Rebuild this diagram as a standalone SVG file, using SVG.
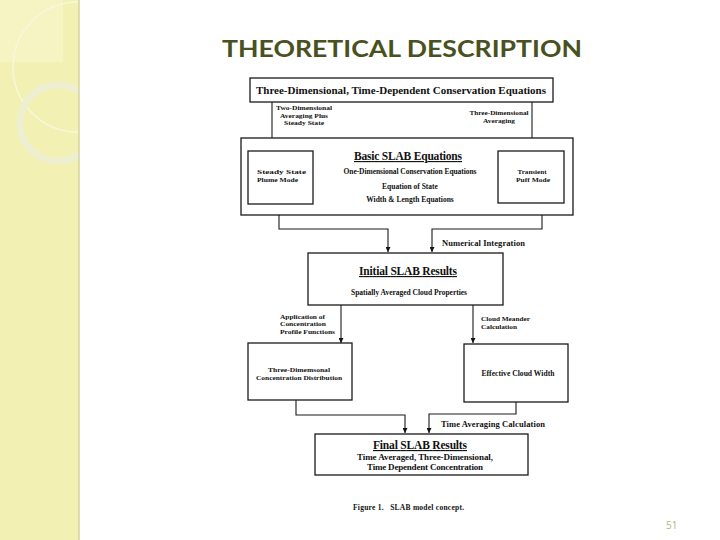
<svg xmlns="http://www.w3.org/2000/svg" width="720" height="540" viewBox="0 0 720 540">
<defs>
<marker id="ah" viewBox="0 0 10 10" refX="10" refY="5" markerWidth="5" markerHeight="5" orient="auto" markerUnits="userSpaceOnUse">
<path d="M0,0 L10,5 L0,10 z" fill="#111"/>
</marker>
<clipPath id="side"><rect x="0" y="0" width="79" height="540"/></clipPath>
</defs>
<style>
.box{fill:#fff;stroke:#1a1a1a;stroke-width:1.3}
.con{fill:none;stroke:#1a1a1a;stroke-width:1.1}
.t{font-family:"Liberation Serif","Times New Roman",serif;font-weight:bold;fill:#111}
.h{font-size:11.5px;text-decoration:underline}
.m{font-size:10.5px}
.s{font-size:7.5px}
.x{font-size:6.8px}
.c{text-anchor:middle}
</style>
<rect x="0" y="0" width="720" height="540" fill="#fff"/>
<g id="sidebar">
<rect x="0" y="0" width="79" height="540" fill="#f2f1b3"/>
<g clip-path="url(#side)">
<rect x="0" y="0" width="63" height="62" fill="#f6f5c9" opacity="0.7"/>
<circle cx="78" cy="67" r="65" fill="none" stroke="#f8f7dc" stroke-width="1.5"/>
<circle cx="58" cy="123" r="38" fill="none" stroke="#eeeed0" stroke-width="7"/>
</g>
<line x1="79" y1="0" x2="79" y2="540" stroke="#d6d49a" stroke-width="1.5"/>
</g>
<text id="title" x="402" y="57" text-anchor="middle" font-family="Lato,'Open Sans',sans-serif" font-weight="bold" font-size="23" fill="#4a5120" textLength="360" lengthAdjust="spacingAndGlyphs">THEORETICAL DESCRIPTION</text>

<g id="connectors">
<path class="con" d="M272,102 V150" marker-end="url(#ah)"/>
<path class="con" d="M532,102 V150" marker-end="url(#ah)"/>
<path class="con" d="M279,204 V229 H388 V252" marker-end="url(#ah)"/>
<path class="con" d="M542,203 V229 H432 V252" marker-end="url(#ah)"/>
<path class="con" d="M341,305 V343" marker-end="url(#ah)"/>
<path class="con" d="M473,305 V343" marker-end="url(#ah)"/>
<path class="con" d="M296,400 V415 H405 V433" marker-end="url(#ah)"/>
<path class="con" d="M516,402 V414 H429 V433" marker-end="url(#ah)"/>
<g class="t x">
<text x="304" y="110" class="c" textLength="56" lengthAdjust="spacingAndGlyphs">Two-Dimensional</text>
<text x="304" y="117.5" class="c" textLength="48" lengthAdjust="spacingAndGlyphs">Averaging Plus</text>
<text x="304" y="125" class="c" textLength="40" lengthAdjust="spacingAndGlyphs">Steady State</text>
<text x="499" y="115" class="c" textLength="59" lengthAdjust="spacingAndGlyphs">Three-Dimensional</text>
<text x="499" y="122.5" class="c" textLength="32" lengthAdjust="spacingAndGlyphs">Averaging</text>
<text x="442" y="245.5" font-size="8.5" textLength="83">Numerical Integration</text>
<text x="280" y="318.5" textLength="45" lengthAdjust="spacingAndGlyphs">Application of</text>
<text x="280" y="326" textLength="46" lengthAdjust="spacingAndGlyphs">Concentration</text>
<text x="280" y="333.5" textLength="55" lengthAdjust="spacingAndGlyphs">Profile Functions</text>
<text x="481" y="321" textLength="49" lengthAdjust="spacingAndGlyphs">Cloud Meander</text>
<text x="481" y="328.5" textLength="36" lengthAdjust="spacingAndGlyphs">Calculation</text>
<text x="441" y="427" font-size="8.5" textLength="104">Time Averaging Calculation</text>
</g>
</g>

<g id="top">
<rect class="box" x="250" y="78" width="303" height="24"/>
<text class="t m c" x="401" y="94" textLength="290" lengthAdjust="spacingAndGlyphs">Three-Dimensional, Time-Dependent Conservation Equations</text>
</g>

<g id="basic">
<rect class="box" x="241" y="138" width="332" height="77"/>
<text class="t h c" x="408" y="160" textLength="108">Basic SLAB Equations</text>
<text class="t s c" x="410" y="173.5" textLength="133">One-Dimensional Conservation Equations</text>
<text class="t s c" x="410" y="188.5">Equation of State</text>
<text class="t s c" x="410" y="201.5">Width &amp; Length Equations</text>
</g>

<g id="steady">
<rect class="box" x="248" y="151" width="65" height="53"/>
<text class="t x" x="257" y="174" textLength="49" lengthAdjust="spacingAndGlyphs">Steady State</text>
<text class="t x" x="257" y="181.5" textLength="41" lengthAdjust="spacingAndGlyphs">Plume Mode</text>
</g>

<g id="transient">
<rect class="box" x="498" y="151" width="66" height="52"/>
<text class="t x c" x="532" y="174" textLength="29" lengthAdjust="spacingAndGlyphs">Transient</text>
<text class="t x c" x="533" y="181.5" textLength="34" lengthAdjust="spacingAndGlyphs">Puff Mode</text>
</g>

<g id="initial">
<rect class="box" x="308" y="253" width="195" height="52"/>
<text class="t h c" x="408" y="275" textLength="98">Initial SLAB Results</text>
<text class="t s c" x="409" y="294.5" textLength="116">Spatially Averaged Cloud Properties</text>
</g>

<g id="threedim">
<rect class="box" x="248" y="343" width="104" height="57"/>
<text class="t x c" x="299" y="372" textLength="62" lengthAdjust="spacingAndGlyphs">Three-Dimemsonal</text>
<text class="t x c" x="299" y="379.5" textLength="86" lengthAdjust="spacingAndGlyphs">Concentration Distribution</text>
</g>

<g id="effective">
<rect class="box" x="464" y="344" width="104" height="58"/>
<text class="t s c" x="518" y="375.5" textLength="73" lengthAdjust="spacingAndGlyphs">Effective Cloud Width</text>
</g>

<g id="final">
<rect class="box" x="315" y="434" width="213" height="41"/>
<text class="t h c" x="420" y="449" font-weight="normal" textLength="94">Final SLAB Results</text>
<text class="t c" x="425" y="460" font-size="9" textLength="136">Time Averaged, Three-Dimensional,</text>
<text class="t c" x="425" y="470" font-size="9" textLength="116">Time Dependent Concentration</text>
</g>

<text class="t" x="353" y="510" font-size="7.5" textLength="111" xml:space="preserve">Figure 1.   SLAB model concept.</text>
<text x="666" y="529" font-family="'Open Sans',sans-serif" font-size="10" fill="#b5b57a">51</text>
</svg>
